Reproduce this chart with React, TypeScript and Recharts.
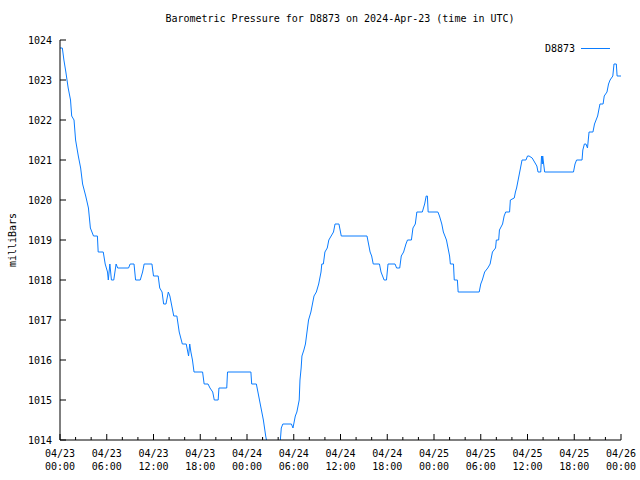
import { LineChart, Line, XAxis, YAxis, Label } from "recharts";

// hours since 2024-04-23 00:00 UTC
const hours = [
  0, 0.3, 0.5, 0.75, 1.05, 1.35, 1.5, 1.8, 2.0, 2.35, 2.65, 2.9, 3.3, 3.65, 3.9, 4.3, 4.8, 4.9, 5.55, 5.8,
  6.1, 6.2, 6.4, 6.6, 6.9, 7.2, 7.4, 8.8, 9.0, 9.5, 9.7, 10.3, 10.6, 10.8, 11.8, 12.0, 12.6, 12.8, 13.1, 13.3,
  13.6, 13.9, 14.1, 14.4, 14.6, 15.0, 15.3, 15.7, 16.2, 16.5, 16.65, 16.8, 17.0, 17.2, 18.3, 18.5, 19.0, 19.25, 19.6, 19.8,
  20.3, 20.4, 21.4, 21.5, 24.5, 24.6, 25.2, 25.5, 25.7, 26.1, 26.4, 26.7, 27.5, 28.2, 28.4, 28.6, 29.7, 29.9, 30.2, 30.4,
  30.7, 30.8, 30.95, 31.05, 31.3, 31.5, 31.7, 31.9, 32.2, 32.4, 32.6, 32.9, 33.2, 33.5, 33.6, 33.8, 34.0, 34.3, 34.5, 34.8,
  35.1, 35.3, 35.8, 36.1, 39.4, 39.6, 39.8, 40.0, 40.2, 41.0, 41.2, 41.4, 41.6, 41.9, 42.1, 43.0, 43.2, 43.6, 43.8, 44.1,
  44.4, 44.6, 45.1, 45.3, 45.6, 45.8, 46.5, 46.8, 47.0, 47.15, 47.25, 48.5, 48.7, 49.0, 49.2, 49.4, 49.6, 49.8, 50.0, 50.1,
  50.5, 50.6, 51.0, 51.1, 53.8, 54.0, 54.2, 54.5, 54.9, 55.2, 55.5, 55.9, 56.0, 56.3, 56.4, 56.8, 57.0, 57.2, 57.7, 57.8,
  58.3, 58.45, 58.6, 58.8, 59.0, 59.15, 59.3, 59.8, 60.0, 60.2, 60.6, 60.9, 61.2, 61.35, 61.7, 61.8, 61.9, 61.95, 62.2, 65.9,
  66.1, 66.3, 67.0, 67.1, 67.3, 67.5, 67.7, 67.8, 67.9, 68.4, 68.6, 68.8, 69.0, 69.2, 69.3, 69.7, 69.85, 70.2, 70.4, 70.6,
  70.95, 71.1, 71.4, 71.5, 72.0,
];

const pressure = [
  1023.8, 1023.8, 1023.5, 1023.2, 1022.8, 1022.5, 1022.1, 1022.0, 1021.5, 1021.1, 1020.8, 1020.4, 1020.1, 1019.8, 1019.3, 1019.1, 1019.1, 1018.7, 1018.7, 1018.4,
  1018.2, 1018.0, 1018.4, 1018.0, 1018.0, 1018.4, 1018.3, 1018.3, 1018.4, 1018.4, 1018.0, 1018.0, 1018.2, 1018.4, 1018.4, 1018.1, 1018.1, 1017.8, 1017.7, 1017.4,
  1017.4, 1017.7, 1017.6, 1017.3, 1017.1, 1017.1, 1016.7, 1016.4, 1016.4, 1016.1, 1016.4, 1016.2, 1016.0, 1015.7, 1015.7, 1015.4, 1015.4, 1015.3, 1015.2, 1015.0,
  1015.0, 1015.3, 1015.3, 1015.7, 1015.7, 1015.4, 1015.4, 1015.1, 1014.9, 1014.5, 1014.1, 1013.8, 1013.6, 1013.8, 1014.3, 1014.4, 1014.4, 1014.3, 1014.6, 1014.7,
  1015.0, 1015.5, 1015.8, 1016.1, 1016.25, 1016.4, 1016.7, 1017.0, 1017.2, 1017.4, 1017.6, 1017.7, 1017.9, 1018.2, 1018.4, 1018.4, 1018.7, 1018.8, 1019.0, 1019.1,
  1019.2, 1019.4, 1019.4, 1019.1, 1019.1, 1018.9, 1018.7, 1018.6, 1018.4, 1018.4, 1018.2, 1018.1, 1018.0, 1018.0, 1018.4, 1018.4, 1018.3, 1018.3, 1018.6, 1018.7,
  1018.9, 1019.0, 1019.0, 1019.3, 1019.4, 1019.7, 1019.7, 1019.9, 1020.1, 1020.1, 1019.7, 1019.7, 1019.6, 1019.4, 1019.2, 1019.1, 1019.0, 1018.8, 1018.6, 1018.4,
  1018.4, 1018.0, 1018.0, 1017.7, 1017.7, 1017.9, 1018.0, 1018.2, 1018.3, 1018.4, 1018.7, 1018.8, 1019.0, 1019.0, 1019.25, 1019.4, 1019.6, 1019.7, 1019.7, 1020.0,
  1020.05, 1020.2, 1020.3, 1020.5, 1020.7, 1020.85, 1021.0, 1021.0, 1021.1, 1021.1, 1021.05, 1020.95, 1020.85, 1020.7, 1020.7, 1021.1, 1020.9, 1021.1, 1020.7, 1020.7,
  1020.9, 1021.0, 1021.0, 1021.25, 1021.4, 1021.4, 1021.3, 1021.5, 1021.7, 1021.7, 1021.9, 1022.0, 1022.1, 1022.3, 1022.4, 1022.4, 1022.6, 1022.7, 1022.9, 1023.0,
  1023.1, 1023.4, 1023.4, 1023.1, 1023.1,
];

const xTicks = [0, 2, 4, 6, 8, 10, 12, 14, 16, 18, 20, 22, 24, 26, 28, 30, 32, 34, 36, 38, 40, 42, 44, 46, 48, 50, 52, 54, 56, 58, 60, 62, 64, 66, 68, 70, 72];
const dayLabels = ["04/23", "04/24", "04/25", "04/26"];
const yTicks = [1014, 1015, 1016, 1017, 1018, 1019, 1020, 1021, 1022, 1023, 1024];

const data = hours.map((h, i) => ({ h, p: pressure[i] }));

const font = "'DejaVu Sans Mono', monospace";
const blue = "#0a7cff";

function timeLabel(h: number) {
  const hh = h % 24;
  return [dayLabels[Math.floor(h / 24)], (hh < 10 ? "0" : "") + hh + ":00"];
}

const BottomTick = ({ x, y, payload }: any) => {
  const major = payload.value % 6 === 0;
  const [d, t] = timeLabel(payload.value);
  return (
    <g>
      <line x1={x} x2={x} y1={y} y2={y - (major ? 6 : 3)} stroke="#000" />
      {major && (
        <text x={x} y={y + 17} textAnchor="middle" fontFamily={font} fontSize={10} fill="#000">
          <tspan x={x}>{d}</tspan>
          <tspan x={x} dy={13}>{t}</tspan>
        </text>
      )}
    </g>
  );
};

const TopTick = ({ x, y, payload }: any) => {
  const major = payload.value % 6 === 0;
  return <line x1={x} x2={x} y1={y} y2={y + (major ? 6 : 3)} stroke="#000" />;
};

const LeftTick = ({ x, y, payload }: any) => (
  <g>
    <line x1={x} x2={x + 6} y1={y} y2={y} stroke="#000" />
    <text x={x - 8} y={y} dy={4} textAnchor="end" fontFamily={font} fontSize={10} fill="#000">
      {payload.value}
    </text>
  </g>
);

const RightTick = ({ x, y }: any) => <line x1={x} x2={x - 6} y1={y} y2={y} stroke="#000" />;

export default function App() {
  return (
    <div style={{ position: "absolute", left: 0, top: 0, width: 640, height: 480, background: "#fff" }}>
      <div
        style={{
          position: "absolute", left: 0, top: 12, width: 680, textAlign: "center",
          fontFamily: font, fontSize: 10, lineHeight: "14px", color: "#000",
        }}
      >
        Barometric Pressure for D8873 on 2024-Apr-23 (time in UTC)
      </div>
      <div
        style={{
          position: "absolute", left: 0, top: 42, width: 575, textAlign: "right",
          fontFamily: font, fontSize: 10, lineHeight: "14px", color: "#000",
        }}
      >
        D8873
      </div>
      <div style={{ position: "absolute", left: 581, top: 48, width: 29, height: 1, background: blue }} />
      <LineChart width={640} height={480} data={data} margin={{ top: 40, right: 19, bottom: 0, left: 0 }}>
        <XAxis
          dataKey="h" type="number" domain={[0, 72]} ticks={xTicks} interval={0}
          allowDataOverflow height={40} tickSize={0} tickMargin={0} tickLine={false}
          axisLine={{ stroke: "#000" }} tick={<BottomTick />}
        />
        <XAxis
          xAxisId="top" orientation="top" dataKey="h" type="number" domain={[0, 72]} ticks={xTicks}
          interval={0} allowDataOverflow height={0} tickSize={0} tickMargin={0} tickLine={false}
          axisLine={{ stroke: "#000" }} tick={<TopTick />}
        />
        <YAxis
          type="number" domain={[1014, 1024]} ticks={yTicks} interval={0} allowDataOverflow
          width={60} tickSize={0} tickMargin={0} tickLine={false} axisLine={{ stroke: "#000" }}
          tick={<LeftTick />}
        >
          <Label
            content={({ viewBox }: any) => {
              const cy = viewBox.y + viewBox.height / 2;
              return (
                <text x={12} y={cy} transform={`rotate(-90 12 ${cy})`} textAnchor="middle"
                  dominantBaseline="central" fontFamily={font} fontSize={10} fill="#000">
                  milliBars
                </text>
              );
            }}
          />
        </YAxis>
        <YAxis
          yAxisId="right" orientation="right" type="number" domain={[1014, 1024]} ticks={yTicks}
          interval={0} allowDataOverflow width={0} tickSize={0} tickMargin={0} tickLine={false}
          axisLine={{ stroke: "#000" }} tick={<RightTick />}
        />
        <Line
          type="linear" dataKey="p" stroke={blue} strokeWidth={1} dot={false}
          isAnimationActive={false} activeDot={false}
        />
      </LineChart>
    </div>
  );
}
